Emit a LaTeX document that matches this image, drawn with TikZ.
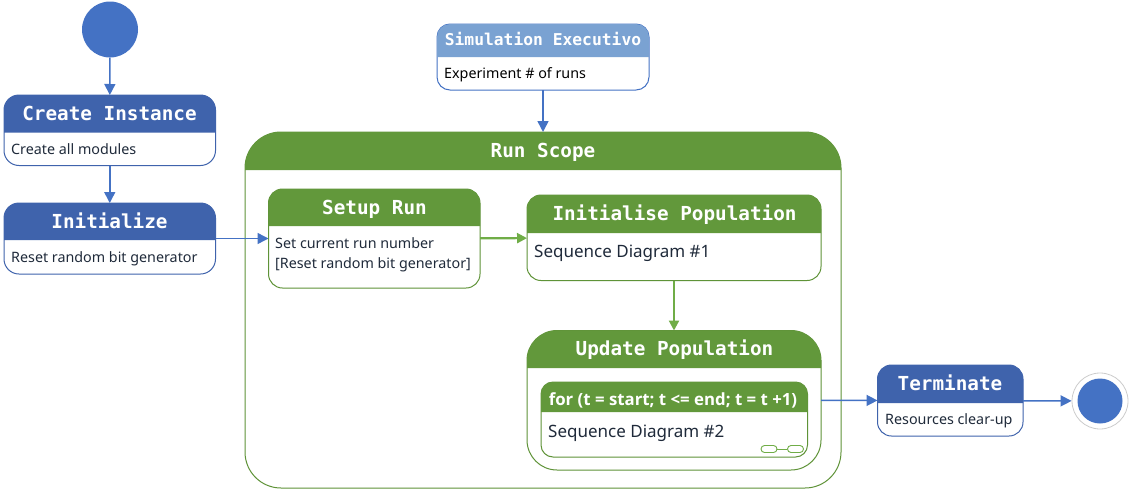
\documentclass[tikz,border=0pt]{standalone}
\usepackage{fontspec}
\setmainfont{Noto Sans}
\newfontfamily\monob[Scale=1.0]{DejaVu Sans Mono}
\newfontfamily\loopfont{Open Sans}
\usetikzlibrary{arrows.meta}
\definecolor{bluehead}{HTML}{3F63AC}
\definecolor{blueline}{HTML}{4472C4}
\definecolor{bluesim}{HTML}{7AA2D2}
\definecolor{greenhead}{HTML}{62983B}
\definecolor{greenline}{HTML}{5F9338}
\definecolor{greenarrow}{HTML}{70AD47}
\definecolor{bodytext}{HTML}{1F2A3A}
\tikzset{
  titletext/.style={text=white,inner sep=0pt,font=\monob\bfseries\fontsize{19.3}{22}\selectfont},
  simtitle/.style={text=white,inner sep=0pt,font=\monob\bfseries\fontsize{16.3}{20}\selectfont},
  bodysmall/.style={anchor=base west,inner sep=0pt,text=bodytext,font=\fontsize{14.3}{17}\selectfont},
  bodylarge/.style={anchor=base west,inner sep=0pt,text=bodytext,font=\fontsize{17}{21}\selectfont},
  looptext/.style={text=white,inner sep=0pt,font=\loopfont\bfseries\fontsize{16.8}{20}\selectfont},
  bluearrow/.style={draw=blueline,line width=1.5pt,-{Triangle[length=11pt,width=11pt]}},
  greenconn/.style={draw=greenarrow,line width=2.2pt,-{Triangle[length=10pt,width=10pt]}},
  startdot/.style={circle,fill=blueline,draw=none,inner sep=0pt},
  enddot/.style={circle,fill=white,draw=black!20,line width=0.8pt,inner sep=0pt},
  linkpill/.style={draw=greenarrow,line width=0.9pt,fill=white,rounded corners=3.5pt,inner sep=0pt,minimum width=16pt,minimum height=7pt},
}
% name, x1, y1, x2, y2, split, radius, head colour, line colour
\newcommand{\statebox}[9]{%
  \node[draw=#9,fill=white,line width=1pt,rounded corners=#7pt,inner sep=0pt,outer sep=0pt,
    minimum width={(#4-#2)*1pt},minimum height={(#5-#3)*1pt}] (#1) at ({(#2+#4)/2},{(#3+#5)/2}) {};
  \fill[#8] (#2,#6) [rounded corners=#7pt] -- (#2,#3) -- (#4,#3) [sharp corners] -- (#4,#6) -- cycle;
}
\begin{document}
\begin{tikzpicture}[x=1pt,y=-1pt]
\useasboundingbox (0,0) rectangle (1131,490);
% outer scope first
\statebox{run}{245}{132}{841}{488}{170}{36}{greenhead}{greenline}
\node[titletext] (runT) at (543,152) {Run Scope};
% start
\node[startdot,minimum size=56pt] (start) at (110,29.5) {};
% create
\statebox{create}{4}{95}{215.5}{165.5}{132.5}{15}{bluehead}{bluehead}
\node[titletext] (createT) at (109.5,113) {Create Instance};
\node[bodysmall] (createB) at (11,154) {Create all modules};
% initialize
\statebox{init}{4}{203}{215.5}{274}{240}{15}{bluehead}{bluehead}
\node[titletext] (initT) at (109.5,221) {Initialize};
\node[bodysmall] (initB) at (11,262) {Reset random bit generator};
% simulation
\statebox{sim}{437}{24}{649}{90}{57}{13}{bluesim}{blueline}
\node[simtitle] (simT) at (543,39) {Simulation Executivo};
\node[bodysmall,text=black] (simB) at (444,78) {Experiment \# of runs};
% setup
\statebox{setup}{268.5}{189}{480}{288}{226}{14}{greenhead}{greenline}
\node[titletext] (setupT) at (374.5,209) {Setup Run};
\node[bodysmall] (setupA) at (275,248) {Set current run number};
\node[bodysmall] (setupB) at (275,268) {[Reset random bit generator]};
% initialise population
\statebox{ipop}{527}{195}{821}{280.5}{233}{14}{greenhead}{greenline}
\node[titletext] (ipopT) at (674.5,215) {Initialise Population};
\node[bodylarge] (ipopB) at (534,257) {Sequence Diagram \#1};
% update population
\statebox{upop}{527}{330.5}{821}{470}{368}{30}{greenhead}{greenline}
\node[titletext] (upopT) at (674.5,349.5) {Update Population};
% loop
\statebox{loop}{541}{382}{807.5}{457}{412}{12}{greenhead}{greenline}
\node[looptext] (loopT) at (673,400) {for (t = start; t <= end; t = t +1)};
\node[bodylarge] (loopB) at (548,437) {Sequence Diagram \#2};
\node[linkpill] (pillA) at (769,449) {};
\node[linkpill] (pillB) at (795.5,449) {};
\draw[draw=greenarrow,line width=0.9pt] (pillA) -- (pillB);
% terminate
\statebox{term}{877.5}{365}{1023}{436}{403}{14}{bluehead}{bluehead}
\node[titletext] (termT) at (950,383) {Terminate};
\node[bodysmall] (termB) at (885,424) {Resources clear-up};
% end
\node[enddot,minimum size=56pt] (endO) at (1100,401) {};
\node[startdot,minimum size=45pt] (endI) at (1100,401) {};
% connectors
\draw[bluearrow] (start) -- (create);
\draw[bluearrow] (create) -- (init);
\draw[bluearrow] (init) -- (setup);
\draw[bluearrow] (sim) -- (run);
\draw[greenconn] (setup) -- (ipop);
\draw[greenconn] (ipop) -- (upop);
\draw[bluearrow] (upop) -- (term);
\draw[bluearrow] (term) -- (endO);
\end{tikzpicture}
\end{document}
